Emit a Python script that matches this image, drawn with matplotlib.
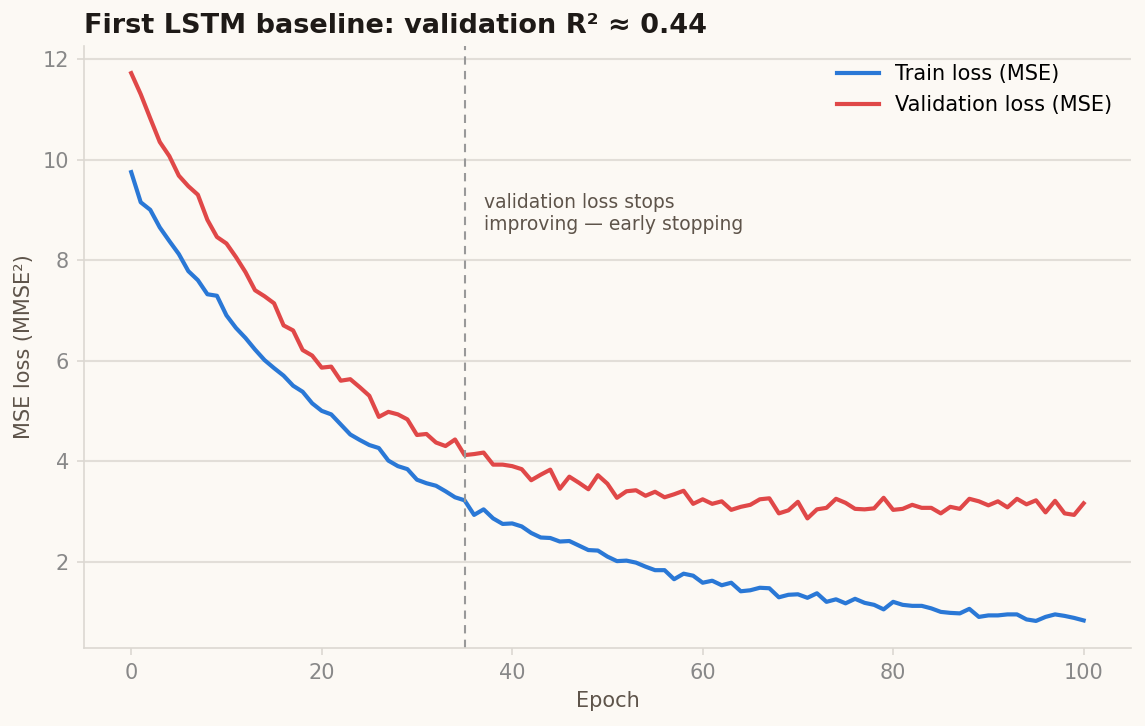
import numpy as np
import matplotlib
matplotlib.use("Agg")
import matplotlib.pyplot as plt

epochs = list(range(101))

train_loss = [
    9.75, 9.15, 9.00, 8.65, 8.38, 8.12, 7.78, 7.60, 7.32, 7.29,
    6.90, 6.65, 6.45, 6.22, 6.01, 5.85, 5.70, 5.50, 5.38, 5.15,
    5.00, 4.93, 4.73, 4.53, 4.42, 4.32, 4.26, 4.01, 3.90, 3.84,
    3.63, 3.56, 3.51, 3.40, 3.28, 3.22, 2.93, 3.04, 2.86, 2.75,
    2.76, 2.70, 2.57, 2.48, 2.47, 2.40, 2.41, 2.32, 2.23, 2.22,
    2.10, 2.01, 2.02, 1.98, 1.90, 1.83, 1.83, 1.65, 1.76, 1.72,
    1.58, 1.62, 1.53, 1.58, 1.41, 1.43, 1.48, 1.47, 1.29, 1.34,
    1.35, 1.28, 1.37, 1.20, 1.25, 1.17, 1.26, 1.18, 1.14, 1.05,
    1.20, 1.14, 1.12, 1.12, 1.07, 1.00, 0.98, 0.97, 1.06, 0.90,
    0.93, 0.93, 0.95, 0.95, 0.85, 0.82, 0.90, 0.95, 0.92, 0.88,
    0.83,
]

val_loss = [
    11.72, 11.30, 10.82, 10.35, 10.07, 9.68, 9.47, 9.30, 8.80, 8.46,
    8.33, 8.06, 7.76, 7.40, 7.28, 7.14, 6.70, 6.60, 6.21, 6.10,
    5.86, 5.88, 5.60, 5.63, 5.47, 5.30, 4.88, 4.98, 4.93, 4.83,
    4.52, 4.54, 4.37, 4.30, 4.43, 4.12, 4.14, 4.17, 3.93, 3.93,
    3.90, 3.84, 3.62, 3.73, 3.83, 3.45, 3.69, 3.57, 3.44, 3.72,
    3.55, 3.27, 3.40, 3.42, 3.31, 3.39, 3.28, 3.34, 3.41, 3.15,
    3.24, 3.15, 3.20, 3.03, 3.09, 3.13, 3.24, 3.26, 2.96, 3.02,
    3.19, 2.86, 3.04, 3.07, 3.25, 3.17, 3.05, 3.04, 3.06, 3.27,
    3.03, 3.05, 3.13, 3.07, 3.07, 2.96, 3.09, 3.05, 3.25, 3.20,
    3.12, 3.20, 3.08, 3.25, 3.14, 3.22, 2.98, 3.21, 2.96, 2.93,
    3.16,
]

stop_epoch = 35

bg = "#fcf9f4"
fig, ax = plt.subplots(figsize=(1145 / 150, 726 / 150), dpi=150)
fig.patch.set_facecolor(bg)
ax.set_facecolor(bg)

ax.plot(epochs, train_loss, color="#2a78d6", lw=2.0, label="Train loss (MSE)")
ax.plot(epochs, val_loss, color="#e04848", lw=2.0, label="Validation loss (MSE)")

ax.axvline(stop_epoch, color="#999999", lw=1.0, ls=(0, (4, 3)))
ax.text(stop_epoch + 2, 8.93, "validation loss stops\nimproving \u2014 early stopping",
        color="#5e544a", fontsize=9.0, va="center", ha="left", linespacing=1.2)

ax.set_yticks([2, 4, 6, 8, 10, 12])
ax.grid(axis="y", color="#e2ded8", lw=1.0)
ax.set_axisbelow(True)
for s in ["top", "right"]:
    ax.spines[s].set_visible(False)
for s in ["left", "bottom"]:
    ax.spines[s].set_color("#dcd8d2")
ax.tick_params(colors="#dcd8d2", labelcolor="#888888", labelsize=10)

ax.set_xlabel("Epoch", color="#5e544a", fontsize=10)
ax.set_ylabel("MSE loss (MMSE\u00b2)", color="#5e544a", fontsize=10)
ax.set_title("First LSTM baseline: validation R\u00b2 \u2248 0.44", loc="left",
             fontsize=13, fontweight="bold", color="#1e1a17")

leg = ax.legend(loc="upper right", frameon=False, fontsize=10)

fig.subplots_adjust(left=0.073, right=0.988, top=0.937, bottom=0.107)
fig.savefig("out.png", dpi=150, facecolor=bg)
